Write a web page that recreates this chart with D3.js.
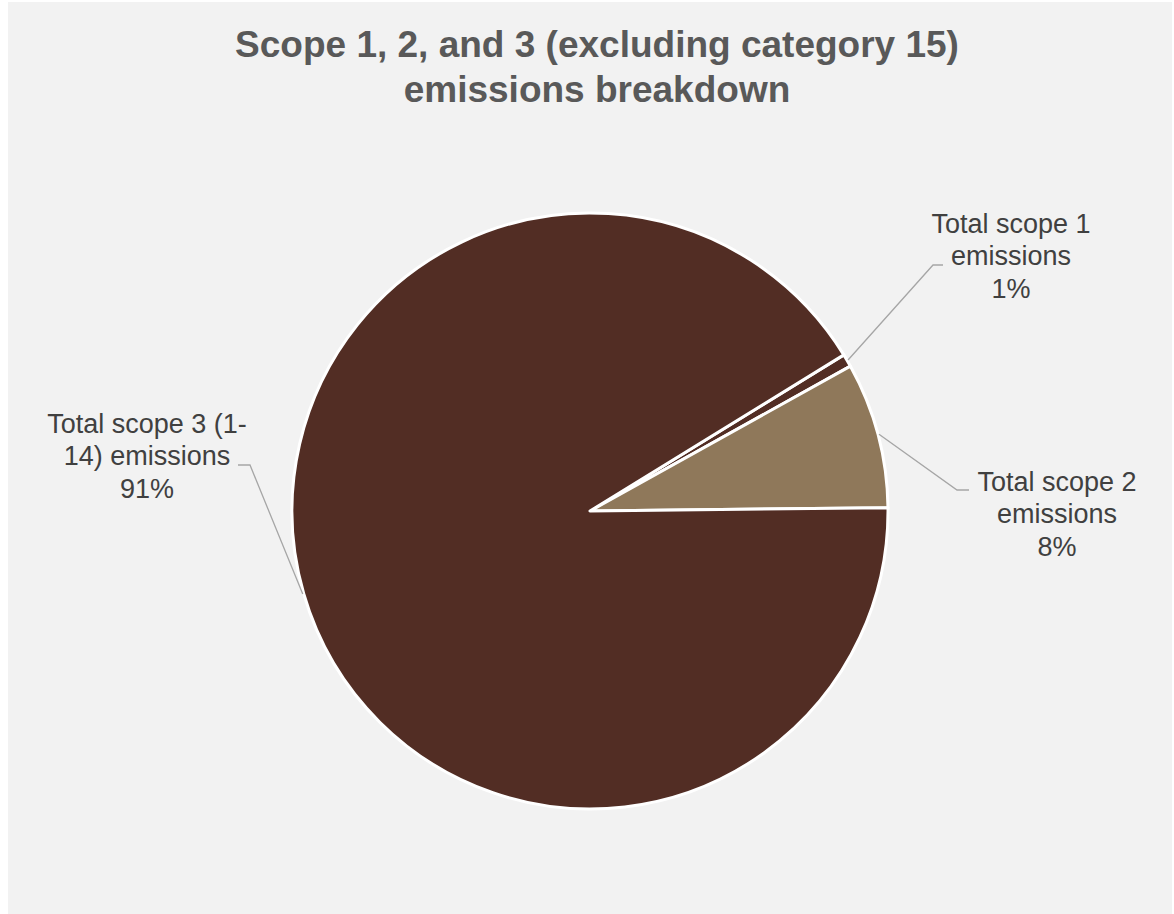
<!DOCTYPE html>
<html>
<head>
<meta charset="utf-8">
<script src="https://cdn.jsdelivr.net/npm/d3@7"></script>
<style>
  html, body { margin: 0; padding: 0; background: #ffffff; }
  svg { display: block; }
</style>
</head>
<body>
<svg id="chart" width="1174" height="914"></svg>
<script>
// ---- data ----
const categories = ["Total scope 1 emissions", "Total scope 2 emissions", "Total scope 3 (1-14) emissions"];
const values = [0.7, 7.9, 91.4];
const percentLabels = ["1%", "8%", "91%"];
const labelLines = [
  ["Total scope 1", "emissions", "1%"],
  ["Total scope 2", "emissions", "8%"],
  ["Total scope 3 (1-", "14) emissions", "91%"]
];
const colors = ["#522D24", "#8F785A", "#522D24"];
const titleLines = ["Scope 1, 2, and 3 (excluding category 15)", "emissions breakdown"];

// ---- layout ----
const W = 1174, H = 914;
const cx = 590, cy = 511, R = 298;
const startDeg = 58.4;

const svg = d3.select("#chart");
svg.append("rect").attr("x", 0).attr("y", 0).attr("width", W).attr("height", H)
  .attr("fill", "#ffffff");
svg.append("rect").attr("x", 8).attr("y", 2).attr("width", W - 10).attr("height", H - 2)
  .attr("fill", "#F2F2F2");

// title
svg.append("text")
  .attr("x", 597).attr("y", 57)
  .attr("text-anchor", "middle")
  .attr("font-family", "Liberation Sans, Arial, sans-serif")
  .attr("font-weight", "bold")
  .attr("font-size", 37)
  .attr("fill", "#595959")
  .selectAll("tspan").data(titleLines).join("tspan")
  .attr("x", 597).attr("dy", (d, i) => i === 0 ? 0 : 45)
  .text(d => d);

const pie = d3.pie().sort(null)
  .startAngle(startDeg * Math.PI / 180)
  .endAngle(startDeg * Math.PI / 180 + 2 * Math.PI);
const arcs = pie(values);
const arc = d3.arc().innerRadius(0).outerRadius(R);

const g = svg.append("g").attr("transform", `translate(${cx},${cy})`);
g.selectAll("path.slice").data(arcs).join("path")
  .attr("class", "slice")
  .attr("d", arc)
  .attr("fill", (d, i) => colors[i])
  .attr("stroke", "#ffffff")
  .attr("stroke-width", 3)
  .attr("stroke-linejoin", "round");

// label placement (layout)
const labelPos = [
  { x: 1011, y: 233, elbow: [933, 265], end: [943, 265] },
  { x: 1057, y: 491, elbow: [957, 490], end: [969, 490] },
  { x: 147, y: 433, elbow: [250, 465], end: [238, 465] }
];

arcs.forEach((a, i) => {
  const mid = (a.startAngle + a.endAngle) / 2;
  const sx = cx + Math.sin(mid) * (R + 1);
  const sy = cy - Math.cos(mid) * (R + 1);
  const p = labelPos[i];
  svg.append("polyline")
    .attr("points", `${sx},${sy} ${p.elbow[0]},${p.elbow[1]} ${p.end[0]},${p.end[1]}`)
    .attr("fill", "none")
    .attr("stroke", "#A6A6A6")
    .attr("stroke-width", 1.3);
  svg.append("text")
    .attr("x", p.x).attr("y", p.y)
    .attr("text-anchor", "middle")
    .attr("font-family", "Liberation Sans, Arial, sans-serif")
    .attr("font-size", 27)
    .attr("fill", "#404040")
    .selectAll("tspan").data(labelLines[i]).join("tspan")
    .attr("x", p.x).attr("dy", (d, j) => j === 0 ? 0 : 32.3)
    .text(d => d);
});
</script>
</body>
</html>
